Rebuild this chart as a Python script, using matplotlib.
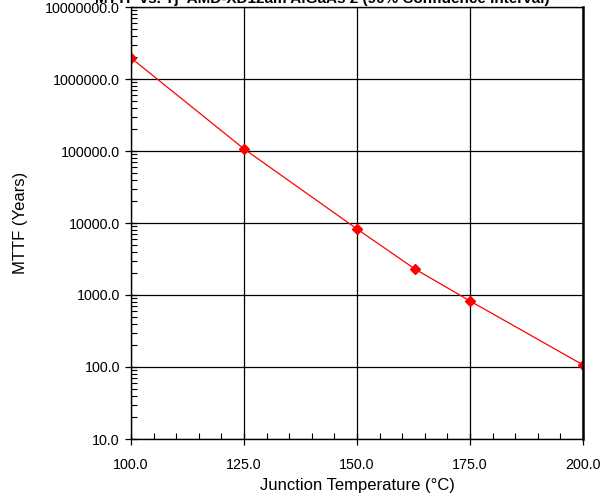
import numpy as np
import matplotlib
matplotlib.use('Agg')
import matplotlib.pyplot as plt
from matplotlib.ticker import LogLocator, MultipleLocator, FuncFormatter, NullFormatter

# values
temps = [100.0, 125.0, 150.0, 162.8, 175.0, 200.0]
mttf = [1.96e6, 1.07e5, 8.26e3, 2.30e3, 826.0, 107.0]
title = 'MTTF vs. Tj  AMD-XD12am AlGaAs 2 (90% Confidence Interval)'

plt.rcParams['font.family'] = ['Liberation Sans', 'DejaVu Sans']

fig = plt.figure(figsize=(6.08, 4.98), dpi=100)
ax = fig.add_axes([131/608, 1 - 439/498, (583-131)/608, (439-7)/498])

ax.plot(temps, mttf, color='red', lw=0.9, marker='D', ms=5, mec='red', mfc='red')

ax.set_yscale('log')
ax.set_xlim(100, 200)
ax.set_ylim(10, 1e7)

ax.xaxis.set_major_locator(MultipleLocator(25))
ax.xaxis.set_minor_locator(MultipleLocator(5))
ax.xaxis.set_major_formatter(FuncFormatter(lambda v, p: f'{v:.1f}'))
ax.yaxis.set_major_locator(LogLocator(base=10, numticks=10))
ax.yaxis.set_minor_locator(LogLocator(base=10, subs=np.arange(2, 10), numticks=20))
ax.yaxis.set_major_formatter(FuncFormatter(lambda v, p: f'{v:.1f}'))
ax.yaxis.set_minor_formatter(NullFormatter())

ax.grid(True, which='major', color='black', lw=0.9)
ax.tick_params(which='major', direction='inout', length=8, width=0.9, labelsize=10.3)
ax.tick_params(axis='x', which='major', pad=10)
ax.tick_params(axis='y', which='major', pad=4)
ax.tick_params(which='minor', direction='in', length=4, width=0.8)
for s in ax.spines.values():
    s.set_linewidth(1.0)
ax.spines['right'].set_linewidth(1.8)

ax.set_xlabel('Junction Temperature (°C)', fontsize=12, labelpad=4)
ax.set_ylabel('MTTF (Years)', fontsize=12, labelpad=12)

fig.text(322/608, 1 - 3/498, title, ha='center', va='baseline', fontsize=11, fontweight='bold')

fig.savefig('out.png', dpi=100)
